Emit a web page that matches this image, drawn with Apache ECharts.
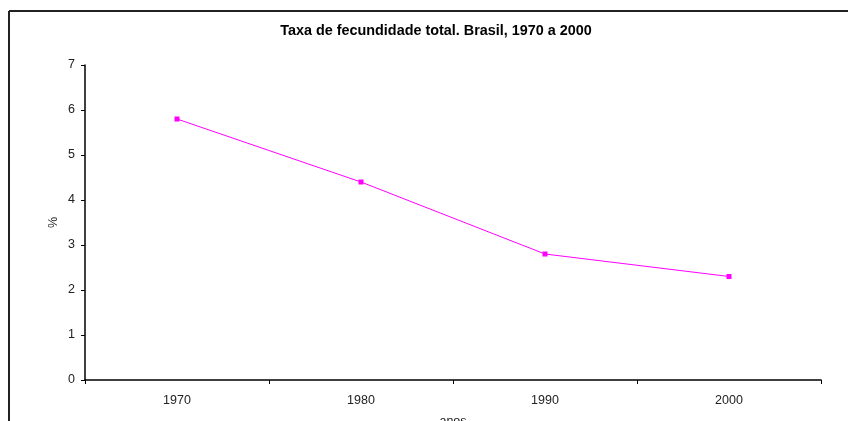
<!DOCTYPE html>
<html>
<head>
<meta charset="utf-8">
<script src="https://cdn.jsdelivr.net/npm/echarts@6/dist/echarts.min.js"></script>
<style>
  html, body { margin: 0; padding: 0; background: #fff; }
  #chart { width: 848px; height: 421px; }
</style>
</head>
<body>
<div id="chart"></div>
<script>
// data
var anos = ['1970', '1980', '1990', '2000'];
var taxa = [5.8, 4.4, 2.8, 2.3];

var chart = echarts.init(document.getElementById('chart'));

var option = {
    backgroundColor: '#fff',
    animation: false,
    title: {
        text: 'Taxa de fecundidade total. Brasil, 1970 a 2000',
        left: 431,
        textAlign: 'center',
        top: 19,
        textStyle: {
            fontFamily: 'Liberation Sans',
            fontSize: 14.4,
            fontWeight: 'bold',
            color: '#000'
        }
    },
    // frame around the chart area (top and left edges visible)
    graphic: [
        { type: 'line', shape: { x1: 9, y1: 11, x2: 848, y2: 11 }, style: { stroke: '#222', lineWidth: 2 } },
        { type: 'line', shape: { x1: 9, y1: 11, x2: 9, y2: 421 }, style: { stroke: '#222', lineWidth: 2 } }
    ],
    grid: {
        left: 85,
        right: 27,
        top: 65,
        bottom: 41,
        outerBoundsMode: 'none'
    },
    xAxis: {
        type: 'category',
        data: anos,
        boundaryGap: true,
        name: 'anos',
        nameLocation: 'middle',
        nameGap: 35,
        nameTextStyle: { fontFamily: 'Liberation Sans', fontSize: 12.5, color: '#222' },
        axisLine: { lineStyle: { color: '#000', width: 1.5 } },
        axisTick: { show: true, length: 4, lineStyle: { color: '#000' } },
        axisLabel: { fontFamily: 'Liberation Sans', fontSize: 12.5, color: '#222', margin: 14 },
        splitLine: { show: false }
    },
    yAxis: {
        type: 'value',
        min: 0,
        max: 7,
        interval: 1,
        name: '%',
        nameLocation: 'middle',
        nameRotate: 90,
        nameGap: 25,
        nameMoveOverlap: false,
        nameTextStyle: { fontFamily: 'Liberation Sans', fontSize: 12.5, color: '#222' },
        axisLine: { show: true, lineStyle: { color: '#000', width: 1.5 } },
        axisTick: { show: true, length: 4, lineStyle: { color: '#000' } },
        axisLabel: { fontFamily: 'Liberation Sans', fontSize: 12.5, color: '#222', margin: 10 },
        splitLine: { show: false }
    },
    series: [
        {
            type: 'line',
            data: taxa,
            symbol: 'rect',
            symbolSize: 5,
            lineStyle: { color: '#ff00ff', width: 1 },
            itemStyle: { color: '#ff00ff' }
        }
    ]
};
chart.setOption(option);
</script>
</body>
</html>
